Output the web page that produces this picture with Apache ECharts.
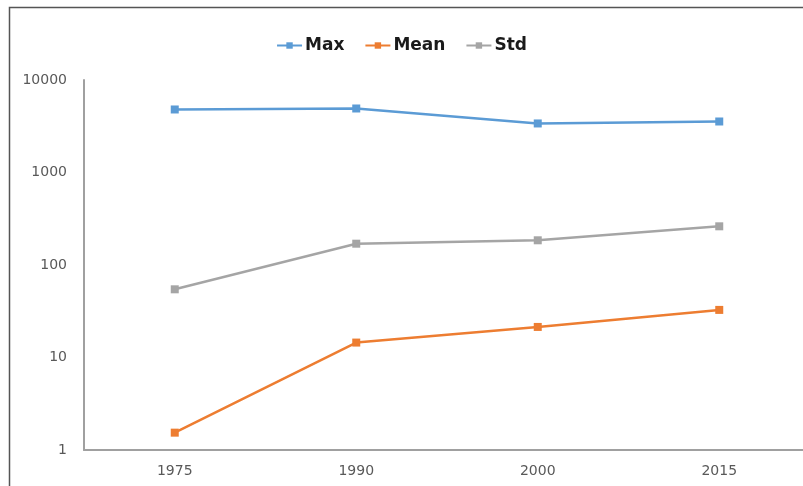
<!DOCTYPE html>
<html>
<head>
<meta charset="utf-8">
<script src="https://cdn.jsdelivr.net/npm/echarts@6/dist/echarts.min.js"></script>
<style>
  html, body { margin: 0; padding: 0; background: #fff; }
  #chart { width: 803px; height: 486px; }
</style>
</head>
<body>
<div id="chart"></div>
<script>
// years on the x axis
const years = ['1975', '1990', '2000', '2015'];
// series values (log scale)
const maxValues = [4800, 4920, 3390, 3560];
const meanValues = [1.54, 14.5, 21.4, 32.7];
const stdValues = [54.6, 170, 185, 262];

const labelFont = '"DejaVu Sans", sans-serif';

const chart = echarts.init(document.getElementById('chart'));

function lineSeries(name, data, color) {
  return {
    name: name,
    type: 'line',
    data: data,
    symbol: 'rect',
    symbolSize: 8,
    lineStyle: { color: color, width: 2.5 },
    itemStyle: { color: color },
    emphasis: { disabled: true },
    animation: false
  };
}

chart.setOption({
  backgroundColor: '#fff',
  animation: false,
  // frame: top and left edges of the original picture
  graphic: [{
    type: 'polyline',
    shape: { points: [[9.5, 500], [9.5, 7.5], [820, 7.5]] },
    style: { fill: 'none', stroke: '#555', lineWidth: 1.5 },
    silent: true,
    z: 0
  }],
  legend: {
    top: 32,
    left: 'center',
    itemWidth: 25,
    itemHeight: 8,
    itemGap: 20,
    textStyle: { fontFamily: labelFont, fontWeight: 'bold', fontSize: 17, color: '#1a1a1a', padding: [0, 0, 0, -2] },
    data: ['Max', 'Mean', 'Std']
  },
  grid: { left: 84, width: 726, top: 80, bottom: 36, outerBoundsMode: 'none' },
  xAxis: {
    type: 'category',
    data: years,
    boundaryGap: true,
    axisLine: { lineStyle: { color: '#a0a0a0', width: 2 } },
    axisTick: { show: false },
    axisLabel: { color: '#595959', fontFamily: labelFont, fontSize: 14, margin: 14 },
    splitLine: { show: false }
  },
  yAxis: {
    type: 'log',
    logBase: 10,
    min: 1,
    max: 10000,
    axisLine: { show: true, lineStyle: { color: '#a0a0a0', width: 2 } },
    axisTick: { show: false },
    axisLabel: {
      color: '#595959',
      fontFamily: labelFont,
      fontSize: 14,
      margin: 17,
      formatter: function (v) { return String(Math.round(v)); }
    },
    splitLine: { show: false }
  },
  series: [
    lineSeries('Max', maxValues, '#5b9bd5'),
    lineSeries('Mean', meanValues, '#ed7d31'),
    lineSeries('Std', stdValues, '#a5a5a5')
  ]
});
</script>
</body>
</html>
